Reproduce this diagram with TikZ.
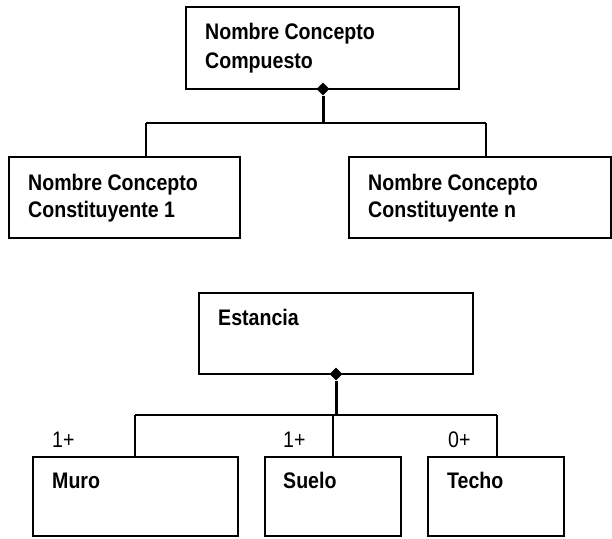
\documentclass[tikz,border=0pt]{standalone}
\usepackage{fontspec}
\setmainfont[FakeStretch=0.87]{Liberation Sans}
\usetikzlibrary{shapes.geometric}
\begin{document}
\begin{tikzpicture}[x=1pt,y=-1pt,
  box/.style={draw=black,line width=2pt,fill=white,inner sep=0pt,minimum width=#1},
  conn/.style={draw=black,line width=2pt},
  thick conn/.style={draw=black,line width=3pt},
  dia/.style={diamond,fill=black,inner sep=0pt,minimum width=13pt,minimum height=13pt},
  lbl/.style={anchor=base west,inner sep=0pt,font=\fontsize{22.5}{26}\selectfont\bfseries},
  mult/.style={anchor=base west,inner sep=0pt,font=\fontsize{22.5}{26}\selectfont}]
\useasboundingbox (0,0) rectangle (612,538);
% top diagram
\node[box=273pt,minimum height=82pt] (top) at (322.5,48) {};
\node[box=231pt,minimum height=81pt] (c1) at (124.5,197.5) {};
\node[box=262pt,minimum height=81pt] (cn) at (480,197.5) {};
\node[lbl] (t1) at (205,39) {Nombre Concepto};
\node[lbl] (t2) at (205,68) {Compuesto};
\node[lbl] (c1a) at (28,190) {Nombre Concepto};
\node[lbl] (c1b) at (28,217) {Constituyente 1};
\node[lbl] (cna) at (368,190) {Nombre Concepto};
\node[lbl] (cnb) at (368,217) {Constituyente n};
\coordinate (tj) at (323,123);
\coordinate (tl) at (146,123);
\coordinate (tr) at (486,123);
\node[dia] (d1) at (323,89) {};
\draw[thick conn] (d1.south) -- (tj);
\draw[conn] (tl) -- (tr);
\draw[conn] (tl) -- (tl |- c1.north);
\draw[conn] (tr) -- (tr |- cn.north);
% bottom diagram
\node[box=274pt,minimum height=81pt] (est) at (336,333.5) {};
\node[box=205pt,minimum height=79pt] (muro) at (135.5,496.5) {};
\node[box=136pt,minimum height=79pt] (suelo) at (333,496.5) {};
\node[box=136pt,minimum height=79pt] (techo) at (496,496.5) {};
\node[lbl] (e1) at (218,325) {Estancia};
\node[lbl] (m1) at (52,488) {Muro};
\node[lbl] (s1) at (283,488) {Suelo};
\node[lbl] (h1) at (447,488) {Techo};
\node[mult] (k1) at (52,447) {1+};
\node[mult] (k2) at (283,447) {1+};
\node[mult] (k3) at (448,447) {0+};
\coordinate (bj) at (336,415);
\coordinate (bl) at (135,415);
\coordinate (bm) at (333,415);
\coordinate (br) at (497,415);
\node[dia] (d2) at (336,374) {};
\draw[thick conn] (d2.south) -- (bj);
\draw[conn] (bl) -- (br);
\draw[conn] (bl) -- (bl |- muro.north);
\draw[conn] (bm) -- (bm |- suelo.north);
\draw[conn] (br) -- (br |- techo.north);
\end{tikzpicture}
\end{document}
